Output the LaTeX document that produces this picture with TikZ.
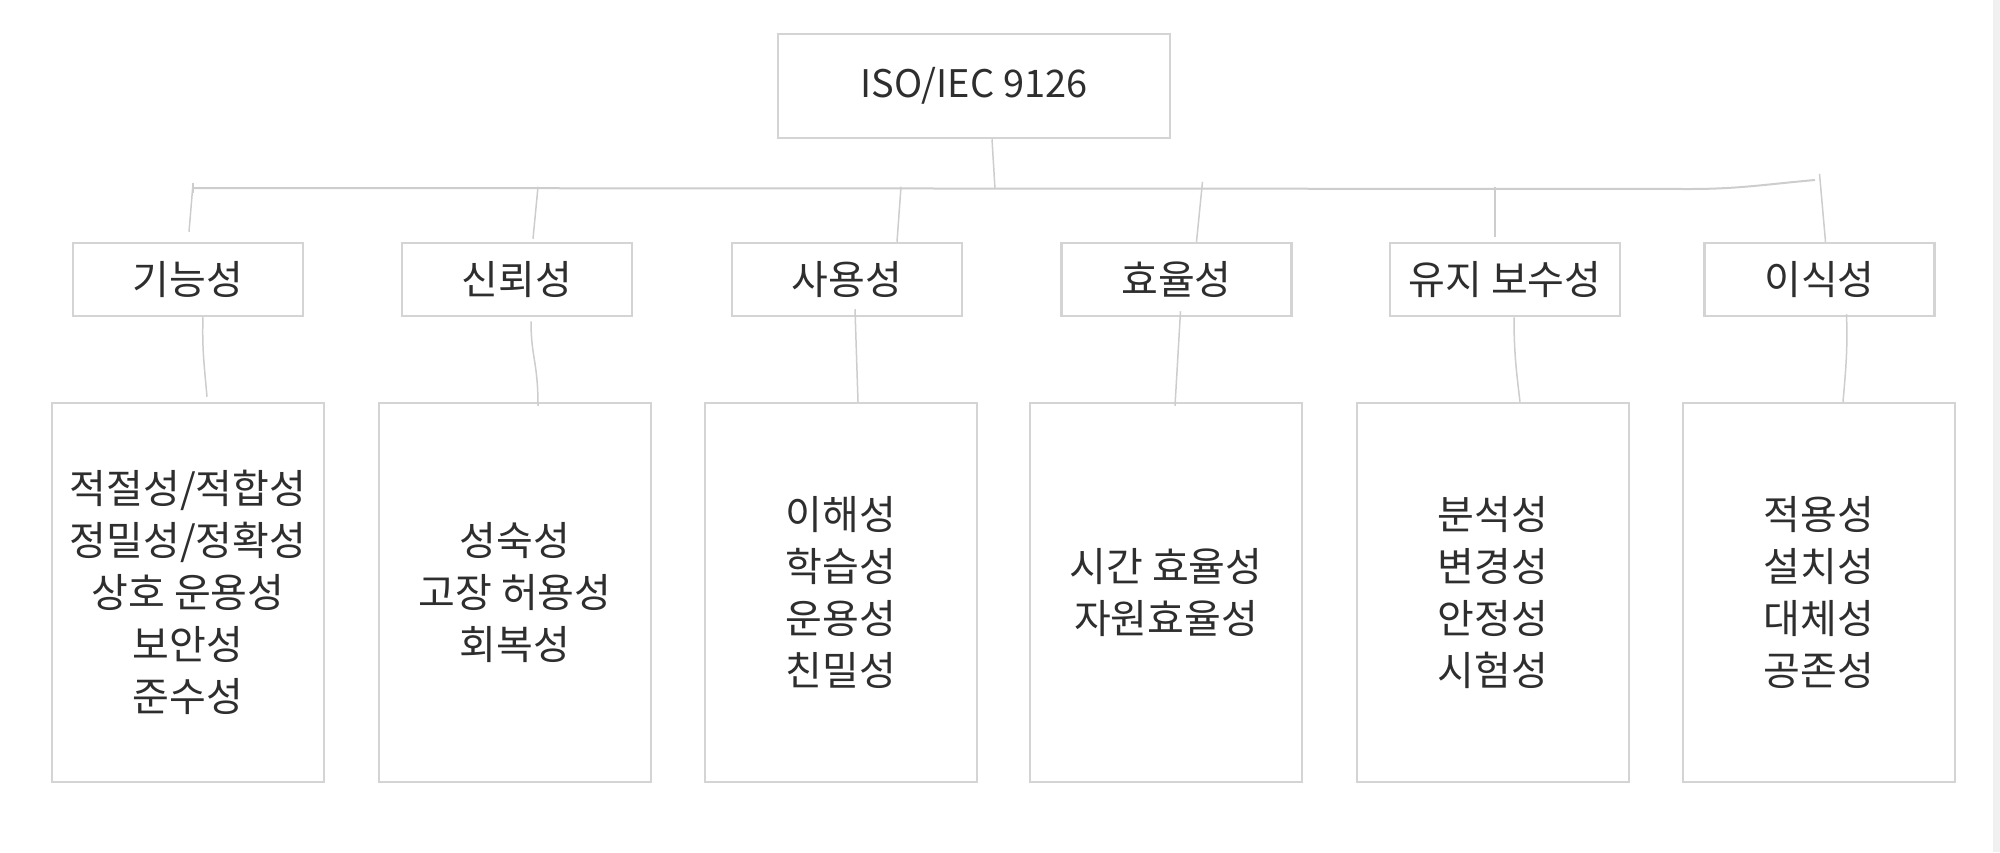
\documentclass[tikz,border=0pt]{standalone}
\usepackage{fontspec}
\setmainfont{Noto Sans CJK KR}
\definecolor{BoxGray}{HTML}{D4D4D4}
\definecolor{LineGray}{HTML}{CDCDCD}
\definecolor{TextGray}{HTML}{2E2E2E}
\tikzset{
  rootbox/.style={draw=BoxGray, line width=2.5pt, inner sep=0pt, text=TextGray,
    minimum width=392pt, minimum height=104pt, font=\fontsize{38pt}{52pt}\selectfont},
  groupbox/.style={draw=BoxGray, line width=2.5pt, inner sep=0pt, text=TextGray,
    minimum width=230pt, minimum height=73pt, font=\fontsize{40pt}{52pt}\selectfont},
  itembox/.style={draw=BoxGray, line width=2.5pt, inner sep=0pt, text=TextGray, align=center,
    minimum width=272pt, minimum height=379pt, font=\fontsize{40pt}{52pt}\selectfont},
  wire/.style={LineGray, line width=1.5pt}
}
\begin{document}
\begin{tikzpicture}[x=1pt,y=-1pt]
\useasboundingbox (0,0) rectangle (2000,852);
\fill[gray!12] (1993,0) rectangle (2000,852);
%TOP
\node[rootbox] (iso) at (974,86) {ISO/IEC 9126};
%GROUPS
\node[groupbox] (k1) at (188,279.5) {기능성};
\node[groupbox] (k2) at (517,279.5) {신뢰성};
\node[groupbox] (k3) at (847,279.5) {사용성};
\node[groupbox] (k4) at (1176.5,279.5) {효율성};
\node[groupbox] (k5) at (1505,279.5) {유지 보수성};
\node[groupbox] (k6) at (1819.5,279.5) {이식성};
%ITEMS
\node[itembox] (s1) at (188,592.5) {적절성/적합성\\정밀성/정확성\\상호 운용성\\보안성\\준수성};
\node[itembox] (s2) at (515,592.5) {성숙성\\고장 허용성\\회복성};
\node[itembox] (s3) at (841,592.5) {이해성\\학습성\\운용성\\친밀성};
\node[itembox] (s4) at (1166,592.5) {시간 효율성\\자원효율성};
\node[itembox] (s5) at (1493,592.5) {분석성\\변경성\\안정성\\시험성};
\node[itembox] (s6) at (1819,592.5) {적용성\\설치성\\대체성\\공존성};
% Bus
\coordinate (busL) at (193,188);
\coordinate (busM) at (1690,189);
\coordinate (busR) at (1815,180);
\coordinate (hub) at (995,189);
\draw[wire, line width=2pt] (busL) -- (busM) to[out=0,in=185] (busR);
\draw[wire] ([yshift=-5pt]busL) -- ([yshift=5pt]busL);
\draw[wire] ([xshift=18pt]iso.south) -- (hub);
% Frontier
\draw[wire] ([xshift=5pt,yshift=58pt]k1.north) -- ([xshift=1pt,yshift=10pt]k1.north);
\draw[wire] ([xshift=21pt,yshift=55pt]k2.north) -- ([xshift=16pt,yshift=3pt]k2.north);
\draw[wire] ([xshift=54pt,yshift=55pt]k3.north) -- ([xshift=50pt]k3.north);
\draw[wire] ([xshift=26pt,yshift=60pt]k4.north) -- ([xshift=20pt]k4.north);
\draw[wire] ([xshift=-10pt,yshift=55pt]k5.north) -- ([xshift=-10pt,yshift=5pt]k5.north);
\draw[wire] ([xshift=0pt,yshift=68pt]k6.north) -- ([xshift=6pt]k6.north);
%BOT
\draw[wire] ([xshift=15pt]k1.south) to[out=-92,in=95] ([xshift=19pt,yshift=5pt]s1.north);
\draw[wire] ([xshift=14pt,yshift=-4pt]k2.south) .. controls ([xshift=14pt,yshift=-40pt]k2.south) and ([xshift=23pt,yshift=40pt]s2.north) .. ([xshift=23pt,yshift=-4pt]s2.north);
\draw[wire] ([xshift=8pt,yshift=8pt]k3.south) -- ([xshift=17pt]s3.north);
\draw[wire] ([xshift=4pt,yshift=6pt]k4.south) -- ([xshift=9pt,yshift=-4pt]s4.north);
\draw[wire] ([xshift=9pt]k5.south) to[out=-90,in=97] ([xshift=27pt]s5.north);
\draw[wire] ([xshift=27pt,yshift=3pt]k6.south) to[out=-88,in=85] ([xshift=24pt]s6.north);
\end{tikzpicture}
\end{document}
